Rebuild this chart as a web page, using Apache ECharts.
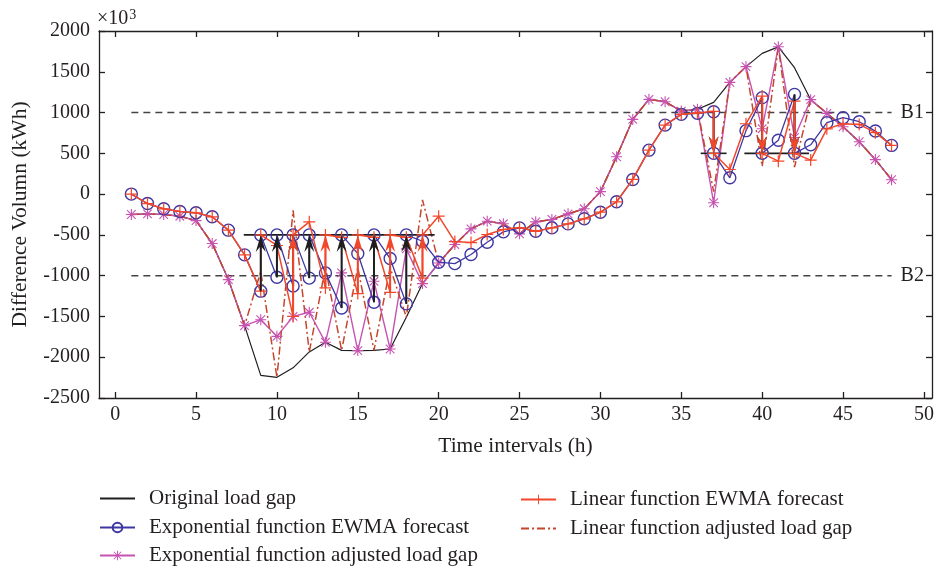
<!DOCTYPE html>
<html>
<head>
<meta charset="utf-8">
<script src="https://cdn.jsdelivr.net/npm/echarts@6.0.0/dist/echarts.min.js"></script>
<style>
  html, body { margin: 0; padding: 0; background: #fff; }
  #box { width: 940px; height: 566px; }
</style>
</head>
<body>
<div id="box"></div>
<script>
// time steps (h)
var hours = [1, 2, 3, 4, 5, 6, 7, 8, 9, 10, 11, 12, 13, 14, 15, 16, 17, 18, 19, 20, 21, 22, 23, 24,
    25, 26, 27, 28, 29, 30, 31, 32, 33, 34, 35, 36, 37, 38, 39, 40, 41, 42, 43, 44, 45, 46, 47, 48];
var xTicks = [0, 5, 10, 15, 20, 25, 30, 35, 40, 45, 50];

// values in 10^3 kWh
var originalGap = [-250, -242, -250, -271, -325, -606, -1048, -1613, -2222, -2246, -2130, -1935, -1817, -1916,
    -1919, -1916, -1899, -1510, -1097, -845, -618, -426, -332, -364, -487, -340, -311, -242, -180, 30,
    458, 916, 1162, 1133, 1018, 1040, 1125, 1370, 1563, 1726, 1806, 1550, 1158, 990, 826, 642, 423, 177];
var expForecast = [0, -116, -180, -213, -229, -278, -442, -745, -1190, -1020, -1126, -1030, -966, -1396,
    -729, -1326, -790, -1346, -578, -835, -852, -741, -590, -463, -414, -456, -414, -365, -303, -222,
    -94, 180, 539, 846, 978, 990, 1010, 200, 778, 1183, 660, 1223, 605, 876, 937, 888, 773, 597];
var expAdjGap = [-250, -242, -250, -271, -325, -606, -1048, -1613, -1540, -1744, -1500, -1449, -1817, -966,
    -1919, -1069, -1899, -671, -1097, -845, -618, -426, -332, -364, -487, -340, -311, -242, -180, 30,
    458, 916, 1162, 1133, 1018, 1040, -106, 1370, 1563, 802, 1806, 695, 1158, 990, 826, 642, 423, 177];
var linForecast = [0, -116, -180, -213, -229, -278, -442, -745, -1190, -630, -1500, -340, -1150, -530,
    -1220, -530, -1204, -530, -1030, -271, -582, -594, -495, -434, -410, -456, -414, -365, -303, -222,
    -94, 180, 539, 846, 978, 995, 1015, 302, 863, 1202, 404, 1141, 417, 800, 863, 855, 753, 597];
var linAdjGap = [-250, -242, -250, -271, -325, -606, -1048, -1613, -950, -2246, -200, -1935, -900, -1916,
    -900, -1916, -900, -1510, -70, -845, -618, -426, -332, -364, -487, -340, -311, -242, -180, 30,
    458, 916, 1162, 1133, 1018, 1040, 30, 1370, 1563, 340, 1806, 330, 1158, 990, 826, 642, 423, 177];

// bounds and the levels a forecast is pulled back to
var B1 = 1000, B2 = -1000;
var upTarget = 500, lowTarget = -500;
// [from x, to x, level]
var targetSegments = [[7.95, 19.75, -500], [36.2, 37.8, 500], [38.9, 42.9, 500]];

var names = ['Original load gap', 'Exponential function EWMA forecast', 'Exponential function adjusted load gap',
    'Linear function EWMA forecast', 'Linear function adjusted load gap'];

var FONT = 'Liberation Serif';
var TXT = '#231f20';
var C_BLACK = '#1e1e1e', C_BLUE = '#3c37a3', C_MAG = '#c653b2', C_RED = '#f2472a', C_DASH = '#c4452b';

var PLUS = 'path://M9 0H11V20H9Z M0 9H20V11H0Z';
var STAR = 'path://M9 0H11V20H9Z M0 9H20V11H0Z M1.5 2.9L2.9 1.5L18.5 17.1L17.1 18.5Z M17.1 1.5L18.5 2.9L2.9 18.5L1.5 17.1Z';

function pairs(ys) {
    return hours.map(function (h, i) { return [h, ys[i]]; });
}
// forecast path: a forecast outside the bounds jumps to its target at the same hour
function forecastPath(fc) {
    var out = [];
    hours.forEach(function (h, i) {
        out.push([h, fc[i]]);
        if (fc[i] < B2) out.push([h, lowTarget]);
        else if (fc[i] > B1) out.push([h, upTarget]);
    });
    return out;
}
function arrows(fc, skip) {
    var out = [];
    hours.forEach(function (h, i) {
        if (skip && skip[i] === fc[i]) return;
        if (fc[i] < B2) out.push([h, fc[i], lowTarget]);
        else if (fc[i] > B1) out.push([h, fc[i], upTarget]);
    });
    return out;
}
function arrowRender(color) {
    return function (params, api) {
        var x = api.value(0);
        var p1 = api.coord([x, api.value(1)]);
        var p2 = api.coord([x, api.value(2)]);
        var d = p1[1] > p2[1] ? 1 : -1;
        return {
            type: 'group',
            children: [{
                type: 'line',
                shape: { x1: p1[0], y1: p1[1], x2: p2[0], y2: p2[1] + d * 10 },
                style: { stroke: color, lineWidth: 2 }
            }, {
                type: 'polygon',
                shape: { points: [[p2[0], p2[1]], [p2[0] - 5, p2[1] + d * 17], [p2[0], p2[1] + d * 11], [p2[0] + 5, p2[1] + d * 17]] },
                style: { fill: color }
            }]
        };
    };
}
function segRender(params, api) {
    var a = api.coord([api.value(0), api.value(2)]);
    var b = api.coord([api.value(1), api.value(2)]);
    return {
        type: 'line',
        shape: { x1: a[0], y1: a[1], x2: b[0], y2: b[1] },
        style: { stroke: C_BLACK, lineWidth: 1.6 }
    };
}
function bound(val, label) {
    return {
        type: 'line', silent: true, symbol: 'none', z: 1,
        data: [[hours[0], val], [hours[hours.length - 1], val]],
        lineStyle: { color: '#444', width: 1.5, type: [7, 5] },
        endLabel: { show: true, formatter: label, distance: 9, fontFamily: FONT, fontSize: 20, color: TXT }
    };
}
// one legend per row, so the two columns sit where they do in the figure
function legendRow(name, left, top, noSymbol) {
    var item = { name: name };
    if (noSymbol) item.itemStyle = { opacity: 0 };
    return {
        left: left, top: top, itemWidth: 35, itemHeight: 12,
        data: [item],
        textStyle: { fontFamily: FONT, fontSize: 21, lineHeight: 20, color: TXT, padding: [0, 0, 0, 9] }
    };
}

var myChart = echarts.init(document.getElementById('box'));
var axisText = { fontFamily: FONT, fontSize: 20, color: TXT };
var nameText = { fontFamily: FONT, fontSize: 21.5, color: TXT };
var option = {
    animation: false,
    grid: { left: 99, right: 8, top: 31, bottom: 168 },
    graphic: [{
        type: 'text', left: 97, top: 8,
        style: {
            text: '×10{s|3}', fontFamily: FONT, fontSize: 20, fill: TXT,
            rich: { s: { fontFamily: FONT, fontSize: 14, verticalAlign: 'top', padding: [0, 0, 8, 1] } }
        }
    }],
    legend: [
        legendRow(names[0], 94, 483, true),
        legendRow(names[1], 94, 512),
        legendRow(names[2], 94, 540),
        legendRow(names[3], 515, 484),
        legendRow(names[4], 515, 513, true)
    ],
    xAxis: [{
        type: 'value', min: -1, max: 50.5,
        name: 'Time intervals (h)', nameLocation: 'middle', nameGap: 37,
        nameTextStyle: nameText,
        axisLine: { onZero: false, lineStyle: { color: TXT, width: 1.3 } },
        axisTick: { inside: true, length: 6, customValues: xTicks, lineStyle: { color: TXT, width: 1.3 } },
        axisLabel: Object.assign({ customValues: xTicks, margin: 7 }, axisText),
        splitLine: { show: false }
    }, {
        type: 'value', min: -1, max: 50.5, position: 'top',
        axisLine: { show: true, onZero: false, lineStyle: { color: TXT, width: 1.3 } },
        axisTick: { inside: true, length: 6, customValues: xTicks, lineStyle: { color: TXT, width: 1.3 } },
        axisLabel: { show: false },
        splitLine: { show: false }
    }],
    yAxis: [{
        type: 'value', min: -2500, max: 2000, interval: 500,
        name: 'Difference Volumn (kWh)', nameLocation: 'middle', nameGap: 68,
        nameTextStyle: nameText,
        axisLine: { show: true, onZero: false, lineStyle: { color: TXT, width: 1.3 } },
        axisTick: { show: true, inside: true, length: 6, lineStyle: { color: TXT, width: 1.3 } },
        axisLabel: Object.assign({ margin: 9, formatter: function (v) { return String(v); } }, axisText),
        splitLine: { show: false }
    }, {
        type: 'value', min: -2500, max: 2000, interval: 500, position: 'right',
        axisLine: { show: true, onZero: false, lineStyle: { color: TXT, width: 1.3 } },
        axisTick: { show: true, inside: true, length: 6, lineStyle: { color: TXT, width: 1.3 } },
        axisLabel: { show: false },
        splitLine: { show: false }
    }],
    series: [
        bound(B1, 'B1'),
        bound(B2, 'B2'),
        {
            name: names[0], type: 'line', symbol: 'none', z: 2,
            data: pairs(originalGap),
            lineStyle: { color: C_BLACK, width: 1.2 }, itemStyle: { color: C_BLACK }
        },
        {
            name: names[2], type: 'line', symbol: STAR, symbolSize: 11, z: 3,
            data: pairs(expAdjGap),
            lineStyle: { color: C_MAG, width: 1.4 }, itemStyle: { color: C_MAG, borderWidth: 0 }
        },
        {
            name: names[4], type: 'line', symbol: 'none', z: 3,
            data: pairs(linAdjGap),
            lineStyle: { color: C_DASH, width: 1.5, type: [8, 3, 2, 3] }, itemStyle: { color: C_DASH }
        },
        {
            type: 'custom', silent: true, z: 4,
            data: targetSegments, encode: { x: [0, 1], y: 2 },
            renderItem: segRender
        },
        {
            name: names[1], type: 'line', symbol: 'circle', symbolSize: 12, z: 5,
            data: forecastPath(expForecast),
            lineStyle: { color: C_BLUE, width: 1.3 },
            itemStyle: { color: 'rgba(0,0,0,0)', borderColor: C_BLUE, borderWidth: 1.4 }
        },
        {
            name: names[3], type: 'line', symbol: PLUS, symbolSize: 12, z: 6,
            data: forecastPath(linForecast),
            lineStyle: { color: C_RED, width: 1.5 }, itemStyle: { color: C_RED, borderWidth: 0 }
        },
        {
            type: 'custom', silent: true, z: 7,
            data: arrows(expForecast), encode: { x: 0, y: [1, 2] },
            renderItem: arrowRender(C_BLACK)
        },
        {
            type: 'custom', silent: true, z: 8,
            data: arrows(linForecast, expForecast), encode: { x: 0, y: [1, 2] },
            renderItem: arrowRender(C_RED)
        }
    ]
};
myChart.setOption(option);
</script>
</body>
</html>
